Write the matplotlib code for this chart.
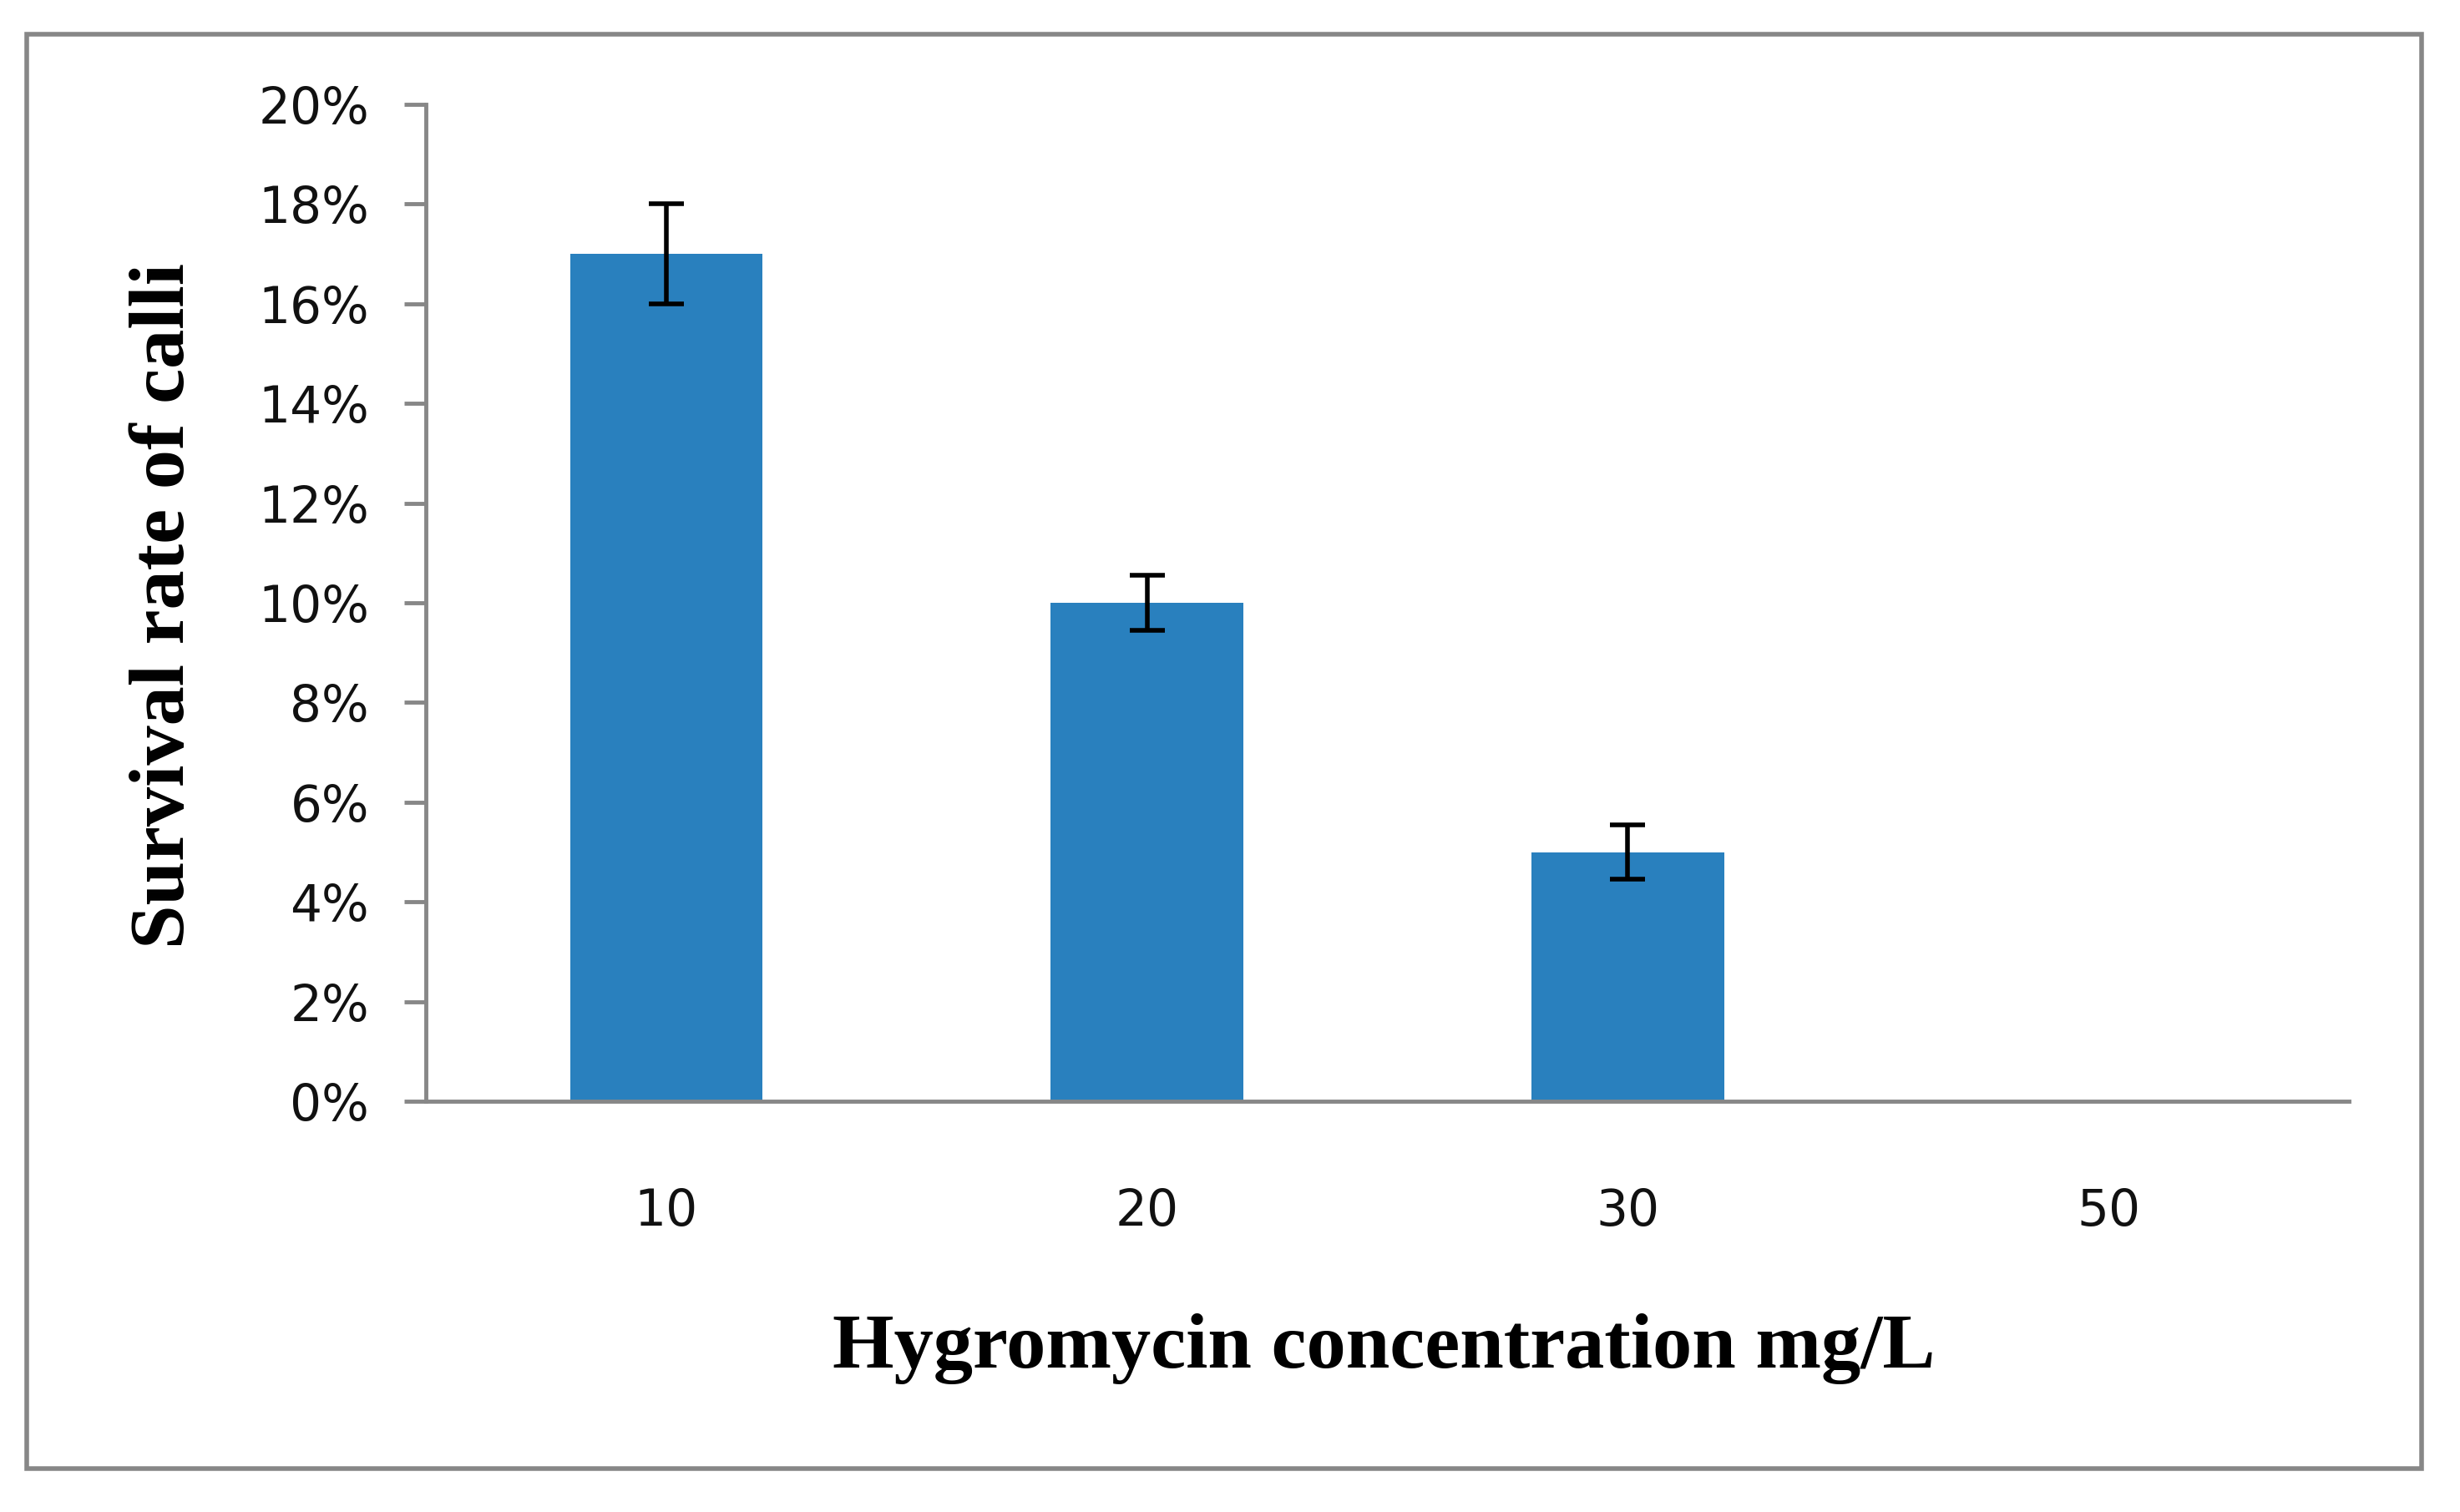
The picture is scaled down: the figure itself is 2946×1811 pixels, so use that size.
import matplotlib
matplotlib.use("Agg")
import matplotlib.pyplot as plt
import numpy as np
from matplotlib.patches import Rectangle
from matplotlib.ticker import FuncFormatter

# data
concentrations = ["10", "20", "30", "50"]
survival = [0.17, 0.10, 0.05, 0.0]
errors = [0.01, 0.0055, 0.0055, 0.0]

bar_color = "#2980BE"
axis_gray = "#878787"

W, H = 2946, 1811
fig = plt.figure(figsize=(W / 100, H / 100), dpi=100)
# plot area: y axis at x=510 px, x axis from 510 to 2813 px, 0% at 1319, 20% at 125
ax = fig.add_axes([510 / W, 1 - 1319 / H, (2813 - 510) / W, (1319 - 125) / H])

x = np.arange(len(concentrations))
yerr = [e if e > 0 else np.nan for e in errors]
ax.bar(x, survival, width=0.4, color=bar_color, zorder=2)
ax.errorbar(x, survival, yerr=yerr, fmt="none", ecolor="black",
            elinewidth=4, capsize=15, capthick=4, zorder=3)

ax.set_xlim(-0.5, len(concentrations) - 0.5)
ax.set_ylim(0, 0.20)
ax.set_yticks(np.arange(0, 0.201, 0.02))
ax.yaxis.set_major_formatter(FuncFormatter(lambda v, p: f"{v*100:.0f}%"))
ax.set_xticks(x)
ax.set_xticklabels(concentrations)

for side in ["top", "right"]:
    ax.spines[side].set_visible(False)
for side in ["left", "bottom"]:
    ax.spines[side].set_color(axis_gray)
    ax.spines[side].set_linewidth(3.5)

ax.tick_params(axis="y", direction="out", length=19, width=3.5,
               color=axis_gray, pad=30, labelsize=43, labelcolor="#111111")
ax.tick_params(axis="x", length=0, pad=74, labelsize=43, labelcolor="#111111")

fig.text(220 / W, 1 - 725 / H, "Survival rate of calli", rotation=90,
         rotation_mode="anchor", ha="center", va="baseline",
         fontsize=68, fontweight="bold", family="Liberation Serif")
fig.text(1657 / W, 1 - 1638 / H, "Hygromycin concentration mg/L",
         ha="center", va="baseline", fontsize=68, fontweight="bold",
         family="Liberation Serif")

# outer frame around the whole chart
fig.patches.append(Rectangle((32 / W, 1 - 1759 / H),
                             (2900 - 32) / W, (1759 - 41) / H,
                             transform=fig.transFigure, fill=False,
                             edgecolor=axis_gray, linewidth=4))

fig.savefig("out.png", dpi=100)
